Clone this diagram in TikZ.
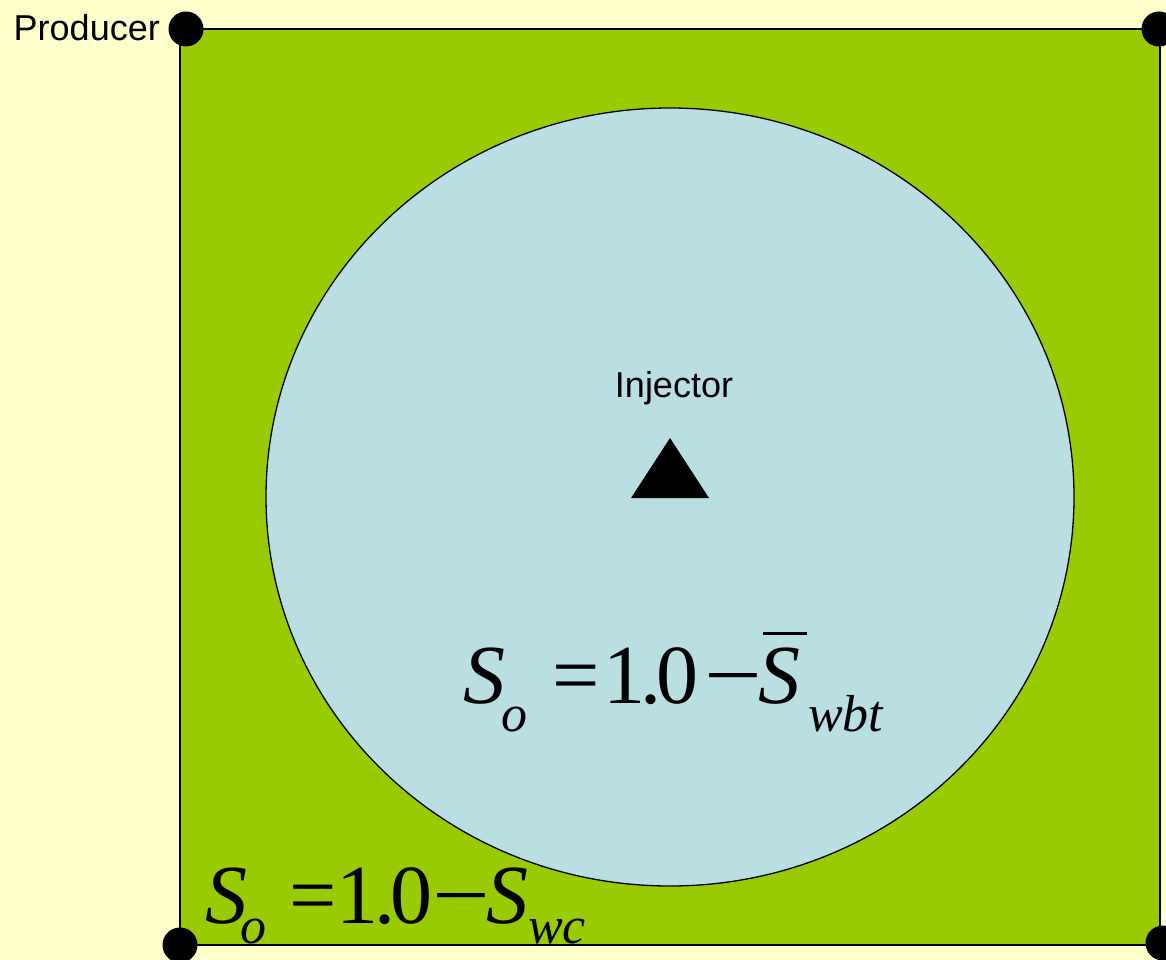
\documentclass[tikz,border=0pt]{standalone}
\usepackage{fontspec}
\setmainfont{Liberation Serif}
\newfontfamily\labelfont{Liberation Sans}
\definecolor{bgyellow}{HTML}{FFFFCC}
\definecolor{fieldgreen}{HTML}{99CC00}
\definecolor{sweptblue}{HTML}{B9DFE3}
\newcommand\fpc[2]{\rlap{\kern#1pt#2}}
\newcommand\fsub[3]{\rlap{\kern#1pt\raisebox{-#2pt}{\fontsize{52}{52}\selectfont\itshape #3}}}
\newcommand\fminus{\scalebox{1.22}[1]{\char"2212}}
\tikzset{
  well/.style={circle, fill=black, inner sep=0pt, minimum size=35pt},
  lbl/.style={font=\labelfont\fontsize{36}{36}\selectfont, inner sep=0pt},
  formula/.style={font=\fontsize{84}{84}\selectfont, inner sep=0pt, anchor=base west}
}
\begin{document}
\begin{tikzpicture}[x=1pt,y=-1pt]
\useasboundingbox (0,0) rectangle (1166,960);
\fill[bgyellow] (0,0) rectangle (1166,960);
\draw[fill=fieldgreen, line width=2pt] (180,29) rectangle (1160,945);
\draw[fill=sweptblue, line width=1.3pt] (670,497) ellipse [x radius=404, y radius=389];
\node[well] (p1) at (186,29) {};
\node[well] (p2) at (1159,29) {};
\node[well] (p3) at (180,945) {};
\node[well] (p4) at (1163,943) {};
\node[lbl, anchor=base east] (prod) at (160,41) {Producer};
\node[lbl, anchor=base] (injl) at (674,397) {Injector};
\fill (670,438) -- (709,498) -- (631,498) -- cycle;
\node[formula] (f1) at (463,703) {\fpc{0}{\itshape S}\fsub{38}{28}{o}\fpc{89}{=}\fpc{140}{1}\fpc{177}{.}\fpc{193}{0}\fpc{241}{\fminus}\fpc{295}{\itshape S}\fpc{300}{\rule[68pt]{44pt}{3pt}}\fsub{345}{28}{wbt}\kern420pt};
\node[formula] (f2) at (205,923) {\fpc{0}{\itshape S}\fsub{35}{20}{o}\fpc{84}{=}\fpc{131}{1}\fpc{169}{.}\fpc{185}{0}\fpc{227}{\fminus}\fpc{281}{\itshape S}\fsub{323}{20}{wc}\kern382pt};
\end{tikzpicture}
\end{document}
